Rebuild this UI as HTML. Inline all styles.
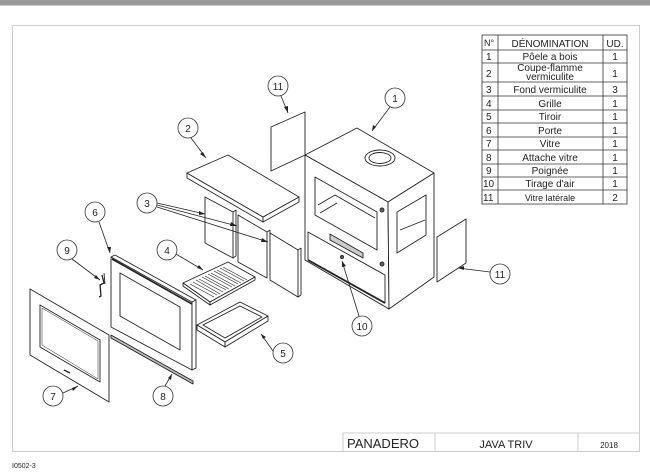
<!DOCTYPE html>
<html><head><meta charset="utf-8"><style>
html,body{margin:0;padding:0;background:#fff;width:650px;height:475px;overflow:hidden}
svg{display:block}
text{font-family:"Liberation Sans",sans-serif;fill:#222}
</style></head><body>
<svg width="650" height="475" viewBox="0 0 650 475" xmlns="http://www.w3.org/2000/svg">
<rect x="0" y="0" width="650" height="5" fill="#999"/>
<rect x="0" y="5" width="650" height="1" fill="#ccc"/>
<rect x="12.5" y="25.5" width="627" height="426" fill="none" stroke="#ccc" stroke-width="1"/>
<!-- title block -->
<g stroke="#ccc" fill="none">
<line x1="343" y1="433" x2="640" y2="433"/>
<line x1="343" y1="433" x2="343" y2="452"/>
<line x1="435" y1="433" x2="435" y2="452"/>
<line x1="578" y1="433" x2="578" y2="452"/>
</g>
<text x="347" y="448" font-size="13">PANADERO</text>
<text x="506" y="448" font-size="11" text-anchor="middle">JAVA TRIV</text>
<text x="609" y="448" font-size="8" text-anchor="middle" font-family="Liberation Serif">2018</text>
<text x="12" y="468" font-size="7" font-family="Liberation Serif">I0502-3</text>
<!-- parts table -->
<g stroke="#333" stroke-width="0.8" fill="none">
<rect x="482" y="35" width="145" height="169"/>
<line x1="498" y1="35" x2="498" y2="204"/>
<line x1="603" y1="35" x2="603" y2="204"/>
<line x1="482" y1="50" x2="627" y2="50"/>
<line x1="482" y1="63" x2="627" y2="63"/>
<line x1="482" y1="82" x2="627" y2="82"/>
<line x1="482" y1="96" x2="627" y2="96"/>
<line x1="482" y1="110" x2="627" y2="110"/>
<line x1="482" y1="123" x2="627" y2="123"/>
<line x1="482" y1="137" x2="627" y2="137"/>
<line x1="482" y1="150" x2="627" y2="150"/>
<line x1="482" y1="164" x2="627" y2="164"/>
<line x1="482" y1="177" x2="627" y2="177"/>
<line x1="482" y1="190" x2="627" y2="190"/>
</g>
<g font-size="10">
<text x="484" y="46" font-size="9">N°</text><text x="550" y="47" text-anchor="middle">DÉNOMINATION</text><text x="615" y="47" text-anchor="middle">UD.</text>
<text x="486" y="60">1</text><text x="550" y="60" text-anchor="middle">Pôele a bois</text><text x="615" y="60" text-anchor="middle">1</text>
<text x="486" y="77">2</text><text x="550" y="71" text-anchor="middle">Coupe-flamme</text><text x="550" y="80" text-anchor="middle">vermiculite</text><text x="615" y="77" text-anchor="middle">1</text>
<text x="486" y="93">3</text><text x="550" y="93" text-anchor="middle">Fond vermiculite</text><text x="615" y="93" text-anchor="middle">3</text>
<text x="486" y="107">4</text><text x="550" y="107" text-anchor="middle">Grille</text><text x="615" y="107" text-anchor="middle">1</text>
<text x="486" y="120">5</text><text x="550" y="120" text-anchor="middle">Tiroir</text><text x="615" y="120" text-anchor="middle">1</text>
<text x="486" y="134">6</text><text x="550" y="134" text-anchor="middle">Porte</text><text x="615" y="134" text-anchor="middle">1</text>
<text x="486" y="147">7</text><text x="550" y="147" text-anchor="middle">Vitre</text><text x="615" y="147" text-anchor="middle">1</text>
<text x="486" y="161">8</text><text x="550" y="161" text-anchor="middle">Attache vitre</text><text x="615" y="161" text-anchor="middle">1</text>
<text x="486" y="174">9</text><text x="550" y="174" text-anchor="middle">Poignée</text><text x="615" y="174" text-anchor="middle">1</text>
<text x="483" y="187">10</text><text x="550" y="187" text-anchor="middle">Tirage d'air</text><text x="615" y="187" text-anchor="middle">1</text>
<text x="483" y="201">11</text><text x="550" y="201" text-anchor="middle" font-size="9">Vitre latérale</text><text x="615" y="201" text-anchor="middle">2</text>
</g>
<!-- drawing -->
<g stroke="#222" stroke-width="0.9" fill="#fff" stroke-linejoin="round">
<!-- stove -->
<polygon points="305,155 357,128 434,173 388,202"/>
<polygon points="305,155 388,202 389,309 305,260"/>
<polygon points="388,202 434,173 434,277 389,309"/>
<ellipse cx="380" cy="158" rx="15" ry="8"/>
<ellipse cx="380" cy="158" rx="11" ry="5.5"/>
<polygon points="315,177 377,212 377,250 315,215"/>
<polyline points="318,205 335,195 375,218" fill="none"/>
<line x1="320" y1="213" x2="337" y2="203"/>
<polygon points="308,232 385,275 385,303 308,260" fill="none"/>
<line x1="308" y1="260" x2="385" y2="303" stroke-width="1.8"/>
<polygon points="330,234 363,253 363,258 330,240" fill="#ccc"/>
<polygon points="397,212 426,195 426,235 397,253"/>
<line x1="400" y1="230" x2="425" y2="220"/>
<circle cx="382" cy="210" r="2" fill="#666"/>
<circle cx="382" cy="264" r="2" fill="#666"/>
<circle cx="342" cy="257" r="1.5" fill="#666"/>
<!-- panels 11 -->
<polygon points="271,127 305,112 305,155 271,171"/>
<polygon points="437,237 466,219 466,263 437,282"/>
<!-- slab 2 -->
<polygon points="187,178 187,173 263,217 263,222"/>
<polygon points="263,217 299,197 299,202 263,222"/>
<polygon points="187,173 228,155 299,197 263,217"/>
<!-- bricks 3 -->
<polygon points="205,197 233,212 233,258 205,243"/><line x1="233" y1="212" x2="236" y2="210"/><line x1="236" y1="210" x2="236" y2="256"/><line x1="236" y1="256" x2="233" y2="258"/>
<polygon points="238,215 267,232 267,278 238,262"/><line x1="267" y1="232" x2="270" y2="230"/><line x1="270" y1="230" x2="270" y2="276"/>
<polygon points="270,233 298,250 298,297 270,280"/><line x1="298" y1="250" x2="301" y2="248"/><line x1="301" y1="248" x2="301" y2="295"/><line x1="301" y1="295" x2="298" y2="297"/>
<!-- grill 4 -->
<polygon points="183,283 228,262 255,277 210,302"/>
<polygon points="183,283 210,302 210,305 183,286"/>
<polygon points="210,302 255,277 255,280 210,305"/>
<g stroke-width="0.6" fill="none">
<line x1="190" y1="284" x2="214" y2="297"/><line x1="193" y1="282" x2="217" y2="295"/><line x1="196" y1="280" x2="220" y2="294"/><line x1="199" y1="279" x2="223" y2="292"/><line x1="202" y1="277" x2="226" y2="290"/><line x1="205" y1="276" x2="229" y2="289"/><line x1="208" y1="274" x2="232" y2="287"/><line x1="211" y1="273" x2="235" y2="286"/><line x1="214" y1="271" x2="238" y2="284"/><line x1="217" y1="270" x2="241" y2="283"/><line x1="220" y1="268" x2="244" y2="281"/><line x1="223" y1="267" x2="247" y2="280"/>
</g>
<!-- tray 5 -->
<polygon points="197,325 240,302 268,316 225,342"/>
<polygon points="197,325 225,342 225,347 197,330"/>
<polygon points="225,342 268,316 268,321 225,347"/>
<polygon points="203,325 240,306 262,317 225,338" fill="none"/>
<!-- door 6 -->
<polygon points="111,257 192,302 192,370 111,327"/>
<polygon points="192,302 196,300 196,368 192,370"/>
<line x1="111" y1="257" x2="115" y2="255"/><line x1="115" y1="255" x2="196" y2="300"/>
<line x1="112" y1="259" x2="192" y2="304" stroke-width="1.6"/>
<polygon points="120,273 180,307 180,350 120,316"/>
<!-- bar 8 -->
<polygon points="111,335 193,381 193,384 111,338" fill="#bbb"/>
<!-- glass 7 -->
<polygon points="30,289 109,335 109,402 30,355"/>
<polygon points="40,305 100,340 100,382 40,347"/>
<polygon points="42,308 98,341 98,379 42,345" fill="none" stroke-width="0.5"/>
<line x1="64" y1="370" x2="70" y2="373" stroke-width="1.5"/>
<!-- handle 9 -->
<path d="M102,275 L104,283 L100,285 L101,296 L99,297" fill="none" stroke-width="1.3"/>
<path d="M104,273 L105,284" fill="none"/>
</g>
<!-- leaders -->
<g stroke="#222" stroke-width="0.8" fill="none">
<line x1="281" y1="96" x2="288" y2="113"/>
<line x1="390" y1="107" x2="372" y2="131"/>
<line x1="191" y1="138" x2="206" y2="158"/>
<line x1="157" y1="203" x2="205" y2="214"/>
<line x1="157" y1="205" x2="237" y2="226"/>
<line x1="157" y1="207" x2="268" y2="242"/>
<line x1="176" y1="254" x2="203" y2="270"/>
<line x1="99" y1="222" x2="110" y2="253"/>
<line x1="72" y1="259" x2="100" y2="280"/>
<line x1="273" y1="351" x2="261" y2="334"/>
<line x1="63" y1="393" x2="78" y2="386"/>
<line x1="165" y1="386" x2="172" y2="374"/>
<line x1="490" y1="272" x2="458" y2="268"/>
<line x1="359" y1="316" x2="342" y2="261"/>
</g>
<g fill="#222">
<polygon points="288,113 284,107 288,106"/>
<polygon points="372,131 373,125 376,127"/>
<polygon points="206,158 200,154 203,152"/>
<polygon points="205,214 199,211 199,215"/>
<polygon points="237,226 231,222 230,226"/>
<polygon points="268,242 262,238 261,242"/>
<polygon points="203,270 197,268 199,265"/>
<polygon points="110,253 107,247 111,247"/>
<polygon points="100,280 94,278 96,275"/>
<polygon points="261,334 266,337 263,339"/>
<polygon points="78,386 73,391 72,388"/>
<polygon points="172,374 171,380 168,378"/>
<polygon points="458,268 464,266 464,270"/>
<polygon points="342,261 346,266 342,267"/>
</g>
<g stroke="#333" stroke-width="0.8" fill="#fff">
<circle cx="278" cy="86" r="10"/><circle cx="395" cy="98" r="10"/><circle cx="188" cy="128" r="10"/>
<circle cx="500" cy="274" r="10"/><circle cx="147" cy="203" r="10"/><circle cx="167" cy="250" r="10"/>
<circle cx="95" cy="212" r="10"/><circle cx="67" cy="250" r="10"/><circle cx="283" cy="353" r="10"/>
<circle cx="53" cy="396" r="10"/><circle cx="163" cy="396" r="10"/><circle cx="362" cy="326" r="10"/>
</g>
<g font-size="10" text-anchor="middle">
<text x="278" y="90">11</text><text x="395" y="102">1</text><text x="188" y="132">2</text>
<text x="500" y="278">11</text><text x="147" y="207">3</text><text x="167" y="254">4</text>
<text x="95" y="216">6</text><text x="67" y="254">9</text><text x="283" y="357">5</text>
<text x="53" y="400">7</text><text x="163" y="400">8</text><text x="362" y="330">10</text>
</g>
</svg>
</body></html>
